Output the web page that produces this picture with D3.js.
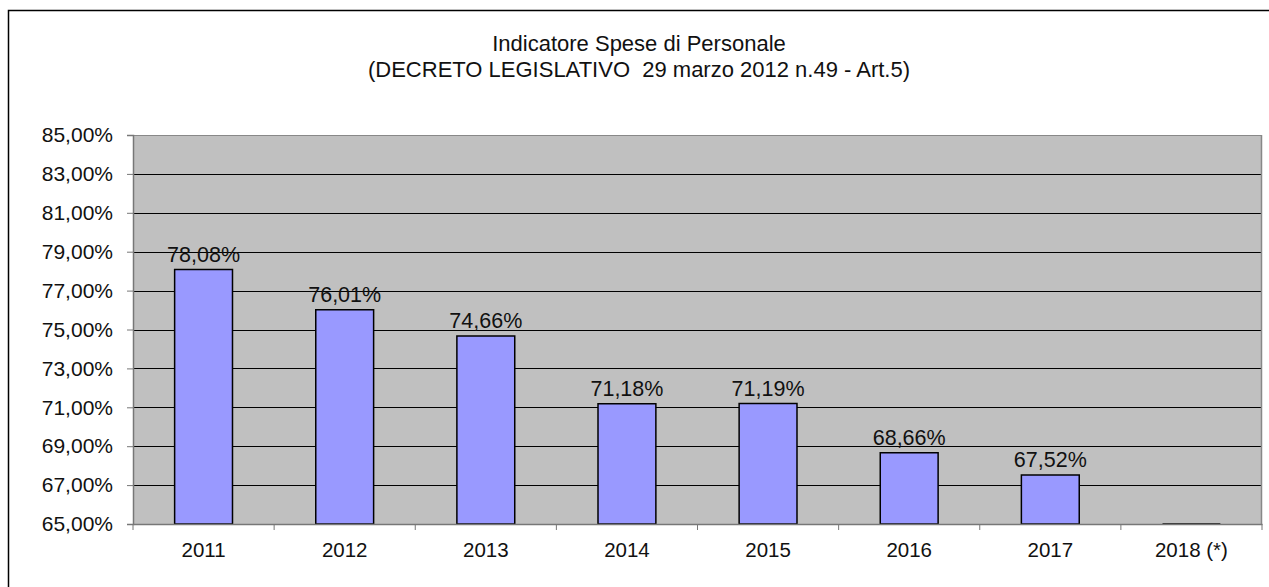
<!DOCTYPE html>
<html>
<head>
<meta charset="utf-8">
<script src="https://cdn.jsdelivr.net/npm/d3@7"></script>
<style>
  body { margin: 0; background: #fff; }
  svg { display: block; font-family: "Liberation Sans", Arial, sans-serif; }
  .title { white-space: pre; }
</style>
</head>
<body>
<svg id="chart" width="1269" height="587"></svg>
<script>
const titleLines = ["Indicatore Spese di Personale", "(DECRETO LEGISLATIVO  29 marzo 2012 n.49 - Art.5)"];
const years = ["2011", "2012", "2013", "2014", "2015", "2016", "2017", "2018 (*)"];
const values = [0.7808, 0.7601, 0.7466, 0.7118, 0.7119, 0.6866, 0.6752, 0];
const yTicks = [0.65, 0.67, 0.69, 0.71, 0.73, 0.75, 0.77, 0.79, 0.81, 0.83, 0.85];

const it = d3.formatLocale({decimal: ",", thousands: ".", grouping: [3], currency: ["€", ""]});
const pct = it.format(".2%");

const svg = d3.select("#chart");
const W = 1269, H = 587;
const m = {left: 133, right: 7, top: 135, bottom: 63};
const font = "Liberation Sans, Arial, sans-serif";

// chart outer frame (cropped at right/bottom in the source)
svg.append("rect")
  .attr("x", 8.5).attr("y", 10.5)
  .attr("width", W + 10).attr("height", H + 10)
  .attr("fill", "#fff").attr("stroke", "#000").attr("stroke-width", 1.5);

svg.append("text")
  .attr("class", "title")
  .attr("x", 639).attr("y", 51)
  .attr("text-anchor", "middle")
  .attr("font-size", 22)
  .attr("fill", "#111")
  .selectAll("tspan")
  .data(titleLines)
  .join("tspan")
  .attr("x", 639)
  .attr("dy", (d, i) => i ? 26 : 0)
  .text(d => d);

const x = d3.scaleBand().domain(years).range([m.left, W - m.right]);
const y = d3.scaleLinear().domain([0.65, 0.85]).range([H - m.bottom, m.top]).clamp(true);

const g = svg.append("g");

g.append("rect")
  .attr("x", m.left).attr("y", m.top)
  .attr("width", W - m.right - m.left).attr("height", H - m.bottom - m.top)
  .attr("fill", "#C0C0C0");

g.append("g")
  .selectAll("line")
  .data(yTicks.slice(1))
  .join("line")
  .attr("x1", m.left).attr("x2", W - m.right)
  .attr("y1", d => Math.round(y(d)) + 0.5).attr("y2", d => Math.round(y(d)) + 0.5)
  .attr("stroke", d => d === 0.85 ? "#888" : "#000")
  .attr("stroke-width", 1);

// right border of plot area
g.append("line")
  .attr("x1", W - m.right - 0.5).attr("x2", W - m.right - 0.5)
  .attr("y1", m.top).attr("y2", H - m.bottom)
  .attr("stroke", "#888").attr("stroke-width", 1.5);

const bw = x.bandwidth() * 0.41;
g.append("g")
  .selectAll("path")
  .data(values)
  .join("path")
  .attr("d", (d, i) => {
    const x0 = x(years[i]) + (x.bandwidth() - bw) / 2, x1 = x0 + bw;
    return `M${x0},${y(0.65)}V${y(d)}H${x1}V${y(0.65)}Z`;
  })
  .attr("fill", "#9999FF")
  .attr("stroke", "#000")
  .attr("stroke-width", 1.5);

g.append("g")
  .selectAll("text")
  .data(values)
  .join("text")
  .filter(d => d > 0)
  .attr("x", (d, i) => x(years[i]) + x.bandwidth() / 2)
  .attr("y", d => y(d) - 8)
  .attr("text-anchor", "middle")
  .attr("font-size", 21.5)
  .attr("fill", "#111")
  .text(d => pct(d));

// y axis
const yAxis = g.append("g")
  .attr("transform", `translate(${m.left},0)`)
  .call(d3.axisLeft(y).tickValues(yTicks).tickFormat(pct).tickSize(6).tickPadding(14));
yAxis.select(".domain").attr("stroke", "#777").attr("stroke-width", 1.5);
yAxis.selectAll(".tick line").attr("stroke", "#777");
yAxis.selectAll("text").attr("font-size", 21).attr("fill", "#111").attr("font-family", font);

// x axis with ticks between categories
const xAxis = g.append("g")
  .attr("transform", `translate(0,${H - m.bottom})`)
  .call(d3.axisBottom(x).tickSize(0).tickPadding(18));
xAxis.select(".domain").attr("stroke", "#777").attr("stroke-width", 1.5);
xAxis.selectAll("text").attr("font-size", 20.5).attr("fill", "#111").attr("font-family", font);
xAxis.append("g")
  .selectAll("line")
  .data(years.map(d => x(d)).concat([W - m.right]))
  .join("line")
  .attr("x1", d => d).attr("x2", d => d)
  .attr("y1", 0).attr("y2", 6)
  .attr("stroke", "#777");
</script>
</body>
</html>
